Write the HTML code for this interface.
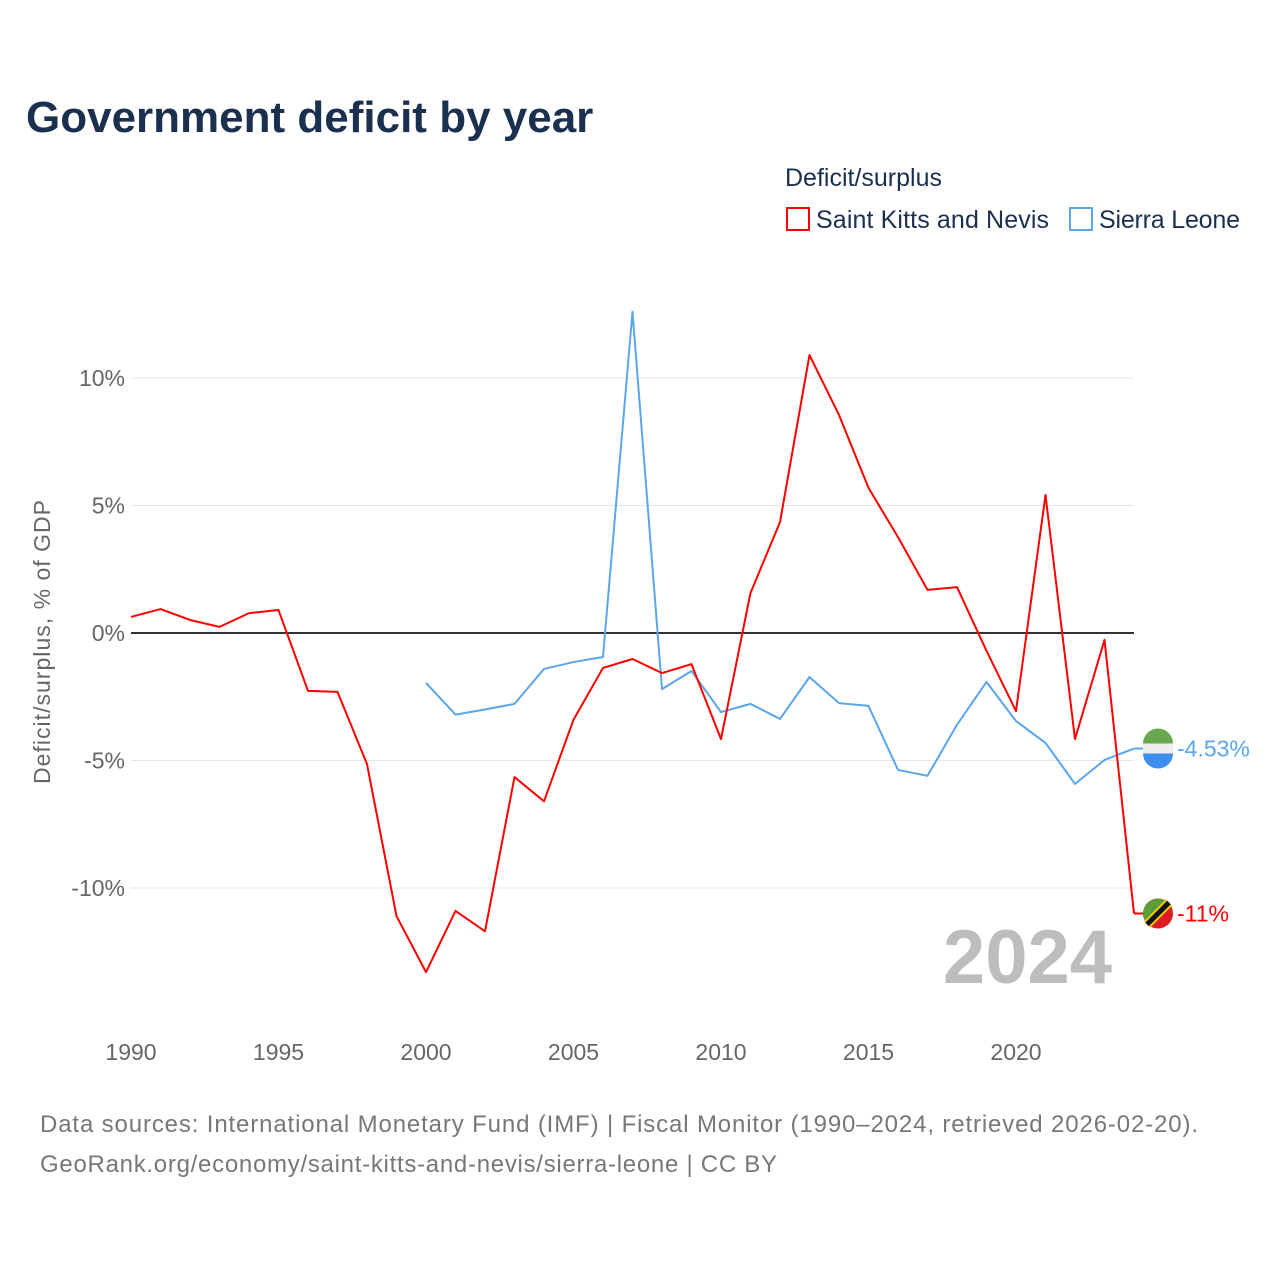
<!DOCTYPE html>
<html><head><meta charset="utf-8">
<style>
body{margin:0;background:#fff;font-family:"Liberation Sans",sans-serif;}
#wrap{position:relative;width:1280px;height:1280px;overflow:hidden;}
</style></head>
<body>
<div id="wrap">
<svg id="chart" width="1280" height="1280">
<text x="26" y="132" font-size="44" font-weight="bold" fill="#1b2f4e">Government deficit by year</text>
<text x="785" y="186" font-size="25" fill="#1b2f4e">Deficit/surplus</text>
<g>
<rect x="787" y="208" width="22" height="22" fill="none" stroke="#ff0000" stroke-width="2"/>
<text x="816" y="228" font-size="25" fill="#1b2f4e" textLength="233">Saint Kitts and Nevis</text></g>
<g>
<rect x="1070" y="208" width="22" height="22" fill="none" stroke="#5aa6ea" stroke-width="2"/>
<text x="1099" y="228" font-size="25" fill="#1b2f4e" textLength="141">Sierra Leone</text></g>
<g id="grid"></g>
<text x="1112" y="983" font-size="76" font-weight="bold" fill="#bdbdbd" text-anchor="end">2024</text>
<g id="series"></g>
<text transform="translate(50,642) rotate(-90)" font-size="23" fill="#666" text-anchor="middle" textLength="284">Deficit/surplus, % of GDP</text>
<text x="40" y="1132" font-size="24" fill="#777" textLength="1158">Data sources: International Monetary Fund (IMF) | Fiscal Monitor (1990–2024, retrieved 2026-02-20).</text>
<text x="40" y="1172" font-size="24" fill="#777" textLength="737">GeoRank.org/economy/saint-kitts-and-nevis/sierra-leone | CC BY</text>
</svg>
</div>
<script>
const years=[1990,1991,1992,1993,1994,1995,1996,1997,1998,1999,2000,2001,2002,2003,2004,2005,2006,2007,2008,2009,2010,2011,2012,2013,2014,2015,2016,2017,2018,2019,2020,2021,2022,2023,2024];
const kittsValues=[0.63,0.94,0.51,0.24,0.78,0.90,-2.27,-2.31,-5.14,-11.1,-13.3,-10.9,-11.7,-5.65,-6.6,-3.4,-1.37,-1.02,-1.57,-1.22,-4.16,1.57,4.35,10.9,8.55,5.69,3.76,1.69,1.8,-0.7,-3.06,5.41,-4.16,-0.27,-11.0];
const sierraYears=[2000,2001,2002,2003,2004,2005,2006,2007,2008,2009,2010,2011,2012,2013,2014,2015,2016,2017,2018,2019,2020,2021,2022,2023,2024];
const sierraValues=[-1.96,-3.2,-3.0,-2.78,-1.41,-1.14,-0.94,12.6,-2.2,-1.49,-3.1,-2.78,-3.37,-1.73,-2.75,-2.86,-5.37,-5.6,-3.6,-1.92,-3.45,-4.31,-5.92,-4.98,-4.53];
const yTicks=[10,5,0,-5,-10];
const yTickLabels=["10%","5%","0%","-5%","-10%"];
const xTicks=[1990,1995,2000,2005,2010,2015,2020];
const NS="http://www.w3.org/2000/svg";
const xs=y=>131+(y-1990)*29.5;
const ys=v=>633-v*25.5;
function mk(tag,attrs,parent){const e=document.createElementNS(NS,tag);for(const k in attrs)e.setAttribute(k,attrs[k]);parent.appendChild(e);return e;}
const grid=document.getElementById('grid');
yTicks.forEach((t,i)=>{
 const l=mk('line',{x1:131,x2:1134,y1:ys(t),y2:ys(t),stroke:t===0?'#333':'#e6e6e6','stroke-width':t===0?2:1},grid);
 
 
 const tx=mk('text',{x:125,y:ys(t)+8,'font-size':23,fill:'#666','text-anchor':'end'},grid);
 tx.textContent=yTickLabels[i];
 
 
});
xTicks.forEach(t=>{
 const tx=mk('text',{x:xs(t),y:1060,'font-size':23,fill:'#666','text-anchor':'middle'},grid);
 tx.textContent=t;
 
 
});
const S=document.getElementById('series');
function line(yrs,vals,color,name){
 const p=mk('polyline',{points:yrs.map((y,i)=>xs(y)+','+ys(vals[i])).join(' '),fill:'none',stroke:color,'stroke-width':2,'stroke-linejoin':'round'},S);
 
 
}
line(sierraYears,sierraValues,'#5aa6ea','series-sierra-leone');
line(years,kittsValues,'#ff0000','series-saint-kitts');
function endMarker(v,color,label,name,flag){
 const y=ys(v);
 mk('line',{x1:1134,x2:1150,y1:y,y2:y,stroke:color,'stroke-width':2},S);
 const g=mk('g',{},S);
 
 
 const cx=1158;
 if(flag==='sl'){
  mk('path',{d:`M${cx-15},${y-5} A15,15 0 0 1 ${cx+15},${y-5} Z`,fill:'#6aa84f'},g);
  mk('rect',{x:cx-15,y:y-5,width:30,height:10,fill:'#eee'},g);
  mk('path',{d:`M${cx-15},${y+5} A15,15 0 0 0 ${cx+15},${y+5} Z`,fill:'#3d8ef0'},g);
 }else{
  mk('circle',{cx:cx,cy:y,r:15,fill:'#e01b24'},g);
  mk('path',{d:`M${cx-15},${y} A15,15 0 0 1 ${cx+10},${y-11} L${cx-10},${y+11} A15,15 0 0 1 ${cx-15},${y} Z`,fill:'#5a9e3a'},g);
  mk('line',{x1:cx-11,y1:y+11,x2:cx+11,y2:y-11,stroke:'#f5d000','stroke-width':9},g);
  mk('line',{x1:cx-11,y1:y+11,x2:cx+11,y2:y-11,stroke:'#111','stroke-width':5},g);
 }
 const t=mk('text',{x:1177,y:y+8,'font-size':23,fill:color},S);
 t.textContent=label;
 
 
}
endMarker(sierraValues[sierraValues.length-1],'#5aa6ea',sierraValues[sierraValues.length-1]+'%','sierra-leone-end','sl');
endMarker(kittsValues[kittsValues.length-1],'#ff0000',Math.round(kittsValues[kittsValues.length-1])+'%','saint-kitts-end','kn');
</script>
</body></html>
